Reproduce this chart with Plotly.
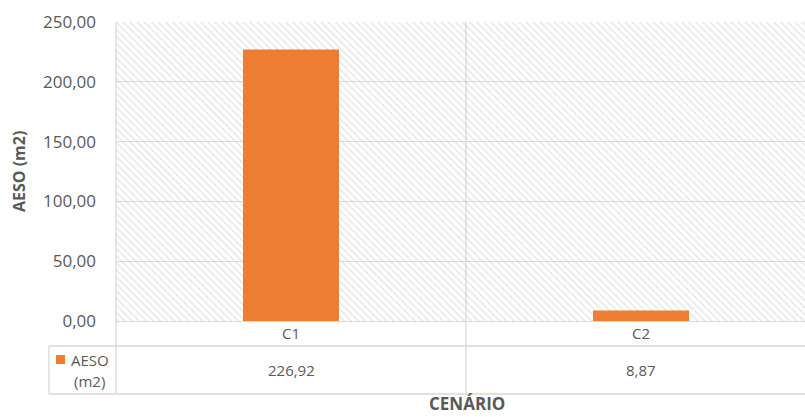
import plotly.graph_objects as go

# ---- data ----
categories = ["C1", "C2"]
aeso_values = [226.92, 8.87]
series_name = "AESO"
series_unit = "(m2)"
y_tick_values = [0, 50, 100, 150, 200, 250]
x_title = "CENÁRIO"
y_title = "AESO (m2)"

# ---- layout constants (pixels) ----
W, H = 805, 417
L, R, T, B = 116, 0, 22, 96
PW, PH = W - L - R, H - T - B
CAT_W = 350.0  # pixel width of one category band
X0 = -0.5
X1 = X0 + PW / CAT_W
Y0, Y1 = 0, 250

GRID = "#d9d9d9"
TXT = "#595959"
ORANGE = "#ED7D31"
FONT = "Open Sans"


def px(xp):
    return (xp - L) / PW


def py(yp):
    return (H - B - yp) / PH


fig = go.Figure()

# hatched plot background (a single transparent bar spanning the whole x range)
fig.add_trace(go.Bar(
    x=[(X0 + X1) / 2], y=[Y1], width=[X1 - X0],
    marker=dict(color="rgba(255,255,255,0)", line=dict(width=0),
                pattern=dict(shape="\\", fgcolor="#d0d0d0", bgcolor="rgba(255,255,255,0)",
                             size=5, solidity=0.3)),
    hoverinfo="skip", showlegend=False,
))

fig.add_trace(go.Bar(
    x=list(range(len(categories))), y=aeso_values,
    marker=dict(color=ORANGE, line=dict(width=0)),
    width=96 / CAT_W, name=series_name, showlegend=False,
))

shapes = []
line = dict(color=GRID, width=1.3)
for yp in [346, 394]:
    shapes.append(dict(type="line", xref="paper", yref="paper", x0=px(49), x1=1, y0=py(yp), y1=py(yp), line=line))
shapes.append(dict(type="line", xref="paper", yref="paper", x0=0, x1=0, y0=py(394), y1=1, line=line))
for i in range(len(categories) - 1):
    shapes.append(dict(type="line", xref="x", yref="paper", x0=i + 0.5, x1=i + 0.5, y0=py(394), y1=1,
                       line=line, layer="between"))
shapes.append(dict(type="line", xref="paper", yref="paper", x0=px(49), x1=px(49), y0=py(346), y1=py(394), line=line))
shapes.append(dict(type="rect", xref="paper", yref="paper", x0=px(56), x1=px(65), y0=py(355), y1=py(364),
                   fillcolor=ORANGE, line=dict(width=0)))

annotations = []
for i, (c, v) in enumerate(zip(categories, aeso_values)):
    annotations.append(dict(x=i, y=py(333), xref="x", yref="paper", text=c, showarrow=False,
                            font=dict(family=FONT, size=15, color=TXT), xanchor="center", yanchor="middle"))
    annotations.append(dict(x=i, y=py(370), xref="x", yref="paper",
                            text=f"{v:.2f}".replace(".", ","), showarrow=False,
                            font=dict(family=FONT, size=15, color=TXT), xanchor="center", yanchor="middle"))
annotations.append(dict(x=px(69), y=py(360), xref="paper", yref="paper", text=series_name, showarrow=False,
                        font=dict(family=FONT, size=15, color=TXT), xanchor="left", yanchor="middle"))
annotations.append(dict(x=px(72), y=py(381), xref="paper", yref="paper", text=series_unit, showarrow=False,
                        font=dict(family=FONT, size=15, color=TXT), xanchor="left", yanchor="middle"))
annotations.append(dict(x=px(467), y=py(417), xref="paper", yref="paper", text=f"<b>{x_title}</b>", showarrow=False,
                        font=dict(family=FONT, size=17, color=TXT), xanchor="center", yanchor="bottom"))
annotations.append(dict(x=px(19), y=py(171), xref="paper", yref="paper", text=f"<b>{y_title}</b>", showarrow=False,
                        textangle=-90,
                        font=dict(family=FONT, size=16, color=TXT), xanchor="center", yanchor="middle"))

fig.update_layout(
    width=W, height=H,
    margin=dict(l=L, r=R, t=T, b=B, pad=0),
    paper_bgcolor="white", plot_bgcolor="white",
    separators=",.",
    font=dict(family=FONT, color=TXT),
    barmode="overlay",
    shapes=shapes, annotations=annotations,
    xaxis=dict(range=[X0, X1], showgrid=False, zeroline=False, showticklabels=False,
               showline=False, fixedrange=True),
    yaxis=dict(range=[Y0, Y1], tickvals=y_tick_values, tickformat=".2f", showgrid=True,
               gridcolor=GRID, gridwidth=1.3, zeroline=True, zerolinecolor=GRID, zerolinewidth=1.3,
               showline=False, ticks="", ticklabelstandoff=19,
               tickfont=dict(family=FONT, size=17, color=TXT), fixedrange=True),
    showlegend=False,
)

fig.write_html("out.html", config={"displayModeBar": False},
               post_script="document.body.style.margin='0';document.body.style.overflow='hidden';")
